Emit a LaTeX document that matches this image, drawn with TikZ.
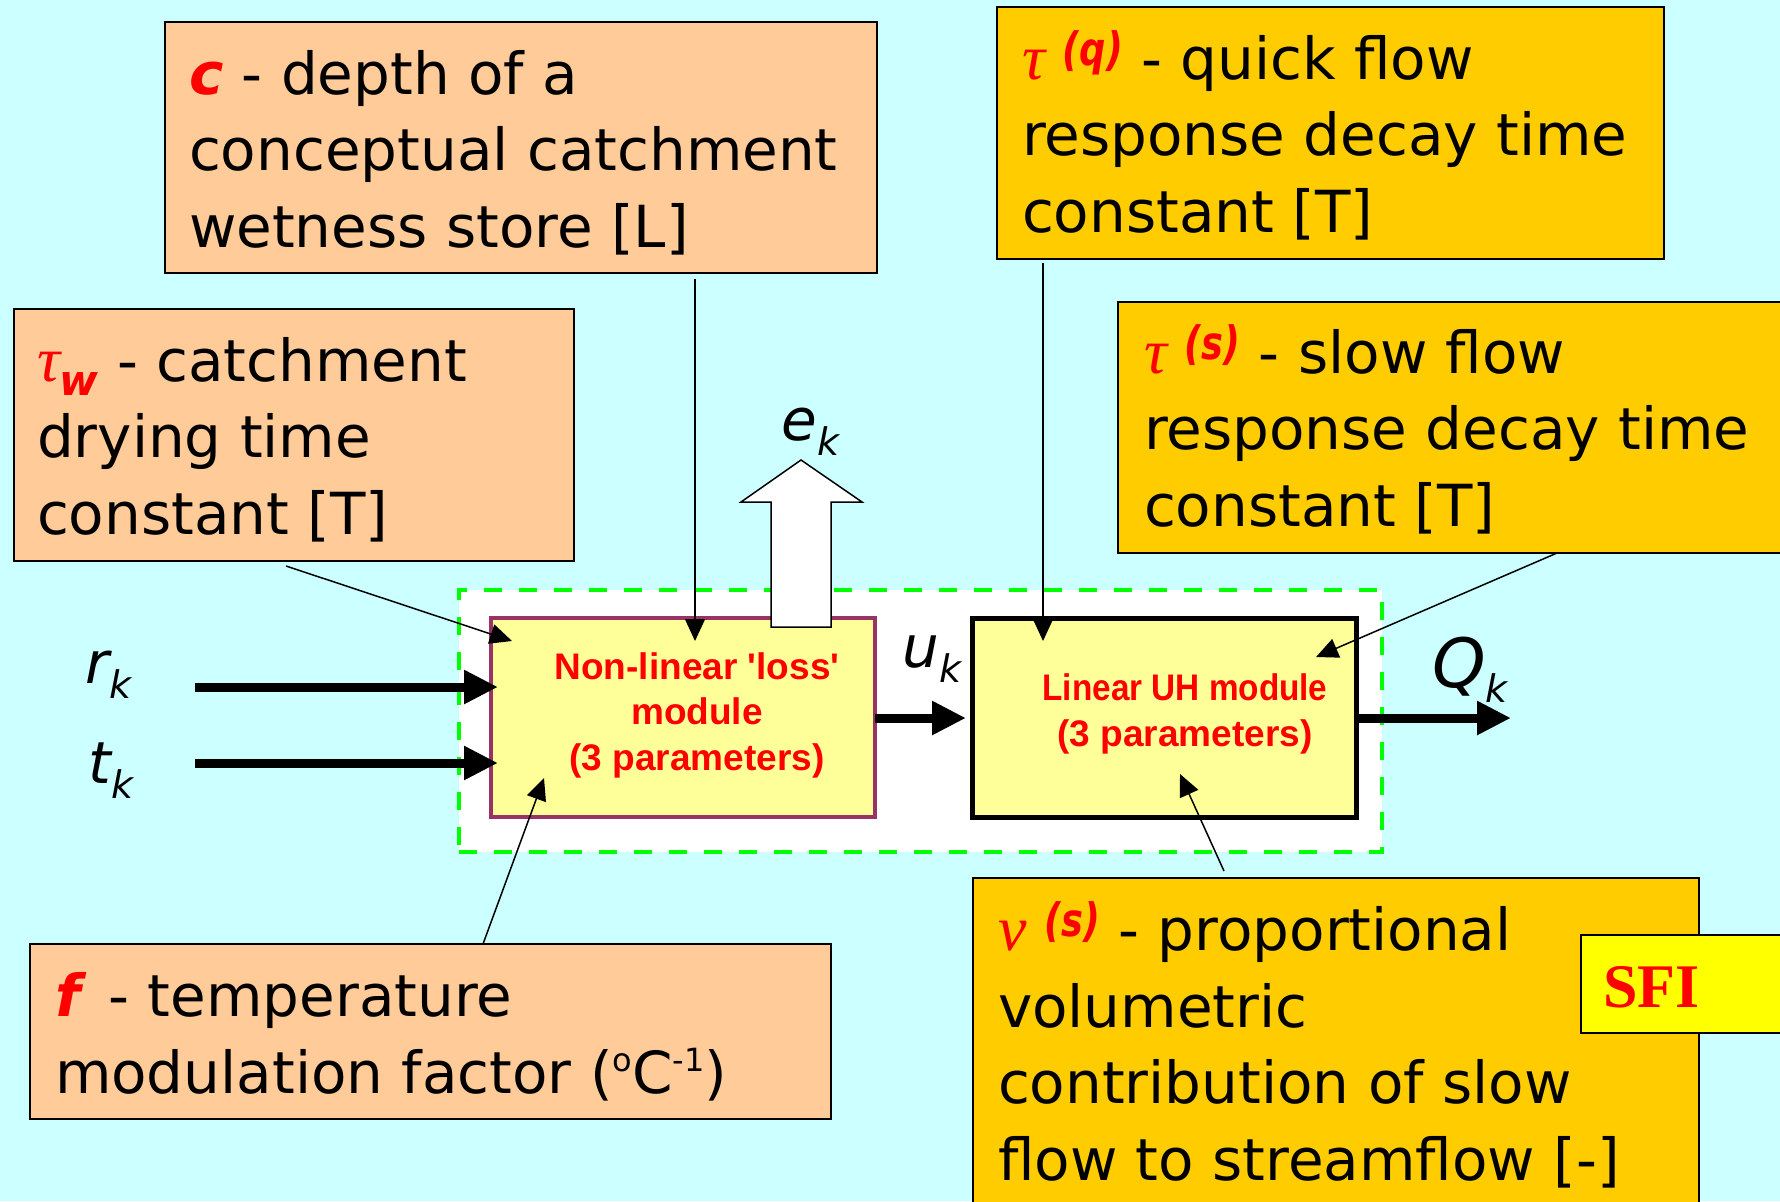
\documentclass[tikz,border=0pt]{standalone}
\usepackage{fontspec}
\setmainfont{DejaVu Sans}
\newfontfamily\greekfont{Liberation Serif}
\newfontfamily\arialfont{Liberation Sans}
\newfontfamily\timesfont{Liberation Serif}
\usetikzlibrary{arrows.meta,calc}
\definecolor{bgc}{HTML}{CCFFFF}
\definecolor{peach}{HTML}{FFCC99}
\definecolor{boxgold}{HTML}{FFCC00}
\definecolor{lyellow}{HTML}{FFFF99}
\definecolor{sfiyellow}{HTML}{FFFF00}
\definecolor{dgreen}{HTML}{00FF00}
\definecolor{pptred}{HTML}{FF0000}
\definecolor{plum}{HTML}{993366}
\newcommand\redbi[1]{\textcolor{pptred}{\bfseries\itshape #1}}
\newcommand\grk[1]{\textcolor{pptred}{\greekfont\itshape\fontsize{32}{32}\selectfont #1}}
\newcommand\supp[1]{\raisebox{7pt}{\textcolor{pptred}{\fontsize{23}{23}\selectfont\bfseries\itshape\scalebox{0.8}[1]{#1}}}}
\newcommand\lsub[1]{\raisebox{-7.5pt}{\fontsize{19}{19}\selectfont #1}}
\begin{document}
\begin{tikzpicture}[x=0.5pt,y=-0.5pt,
  box/.style={draw=black, line width=0.8pt, rectangle, inner sep=0pt, outer sep=0pt, anchor=north west},
  peachbox/.style={box, fill=peach},
  goldbox/.style={box, fill=boxgold},
  modbox/.style={rectangle, inner sep=0pt, outer sep=0pt, anchor=north west, fill=lyellow, line width=2.25pt, minimum width=192pt, minimum height=99.5pt},
  txt/.style={anchor=base west, inner sep=0pt, outer sep=0pt, align=left, font=\fontsize{29}{38.25}\selectfont},
  modtxt/.style={anchor=base, inner sep=0pt, align=center, text=pptred, font=\arialfont\bfseries\fontsize{18.5}{22.75}\selectfont},
  lbl/.style={anchor=base west, inner sep=0pt, font=\itshape\fontsize{29}{29}\selectfont},
  thinarrow/.style={line width=0.75pt, -{Triangle[length=11pt,width=10pt]}},
  thickarrow/.style={line width=4.5pt, -{Triangle[length=17pt,width=16pt]}},
]
\clip (0,0) rectangle (1780,1201);
\fill[bgc] (0,0) rectangle (1780,1201);

% model group
\node[rectangle, anchor=north west, inner sep=0pt, outer sep=0pt, minimum width=461.5pt, minimum height=131pt, fill=white, draw=dgreen, line width=2.4pt, dash pattern=on 9pt off 8.5pt] (grp) at (459,590) {};
\node[modbox, draw=plum] (loss) at (491,618) {};
\node[modbox, draw=black, line width=2.5pt] (uh) at (972,618) {};
% (multi-line nodes: base anchor = last line's baseline)
\node[modtxt] (losstxt) at (697,770) {Non-linear \textquotesingle loss\textquotesingle\\module\\(3 parameters)};
\node[modtxt] (uhtxt) at (1185,746) {\scalebox{0.9}[1]{Linear UH module}\\(3 parameters)};

% hollow output arrow e_k
\draw[fill=white, line width=0.75pt, line join=miter] (771,627) -- (771,502) -- (741,502) -- (801,460) -- (862,502) -- (831,502) -- (831,627) -- cycle;

% parameter boxes
\node[peachbox, minimum width=356pt, minimum height=125.5pt] (cbox) at (165,22) {};
\node[peachbox, minimum width=280pt, minimum height=126pt] (twbox) at (14,309) {};
\node[goldbox, minimum width=333.5pt, minimum height=126pt] (tqbox) at (997,7) {};
\node[goldbox, minimum width=341pt, minimum height=125.5pt] (tsbox) at (1118,302) {};
\node[peachbox, minimum width=400.5pt, minimum height=87.5pt] (fbox) at (30,944) {};
\node[goldbox, minimum width=363pt, minimum height=171pt] (nubox) at (973,878) {};
\node[box, fill=sfiyellow, minimum width=109.5pt, minimum height=49pt] (sfibox) at (1581,935) {};

% texts (placed at the baseline of their last line)
\node[txt] (ctxt) at (189,247) {\redbi{c} - depth of a\\conceptual catchment\\wetness store [L]};
\node[txt] (twtxt) at (37,534) {\grk{τ}\raisebox{-7pt}{\textcolor{pptred}{\fontsize{21}{21}\selectfont\bfseries\itshape w}} - catchment\\drying time\\constant [T]};
\node[txt] (tqtxt) at (1022,232) {\grk{τ}\hspace{9pt}\supp{(q)} - quick flow\\response decay time\\constant [T]};
\node[txt] (tstxt) at (1144,526) {\grk{τ}\hspace{9pt}\supp{(s)} - slow flow\\response decay time\\constant [T]};
\node[txt] (ftxt) at (55,1093) {\redbi{f}\hspace{5pt} - temperature\\modulation factor (\raisebox{11pt}{\fontsize{16}{16}\selectfont o}C\raisebox{11pt}{\fontsize{16}{16}\selectfont -1})};
\node[txt] (nutxt) at (998,1180) {\grk{ν}\hspace{9pt}\supp{(s)} - proportional\\volumetric\\contribution of slow\\flow to streamflow [-]};
\node[anchor=base west, inner sep=0pt, text=pptred, font=\timesfont\bfseries\fontsize{31}{31}\selectfont] (sfitxt) at (1603,1007) {SFI};

% variable labels
\node[lbl] (ek) at (781,440) {e\lsub{k}};
\node[lbl] (rk) at (85,683) {r\lsub{k}};
\node[lbl] (tk) at (88,783) {t\lsub{k}};
\node[lbl] (uk) at (902,667) {u\lsub{k}};
\node[lbl, font=\itshape\fontsize{34}{34}\selectfont] (qk) at (1432,687) {Q\lsub{k}};

% thick flow arrows
\coordinate (rsrc) at (195,687);
\coordinate (tsrc) at (195,763);
\coordinate (flow) at (0,718);
\coordinate (qend) at (1511,718);
\draw[thickarrow] (rsrc) -- ($(loss.west |- rsrc)+(7,0)$);
\draw[thickarrow] (tsrc) -- ($(loss.west |- tsrc)+(7,0)$);
\draw[thickarrow] (loss.east |- flow) -- ($(uh.west |- flow)+(-6,0)$);
\draw[thickarrow] ($(uh.east |- flow)+(3,0)$) -- (qend);

% parameter pointers
\coordinate (cS) at (695,279);   \coordinate (cT) at (695,641);
\coordinate (twS) at (286,566);  \coordinate (twT) at (512,641);
\coordinate (tqS) at (1043,263); \coordinate (tqT) at (1043,641);
\coordinate (tsS) at (1557,553); \coordinate (tsT) at (1316,657);
\coordinate (fS) at (483,944);   \coordinate (fT) at (544,778);
\coordinate (nuS) at (1224,871); \coordinate (nuT) at (1180,774);
\draw[thinarrow] (cS) -- (cT);
\draw[thinarrow] (twS) -- (twT);
\draw[thinarrow] (tqS) -- (tqT);
\draw[thinarrow] (tsS) -- (tsT);
\draw[thinarrow] (fS) -- (fT);
\draw[thinarrow] (nuS) -- (nuT);
\end{tikzpicture}
\end{document}
